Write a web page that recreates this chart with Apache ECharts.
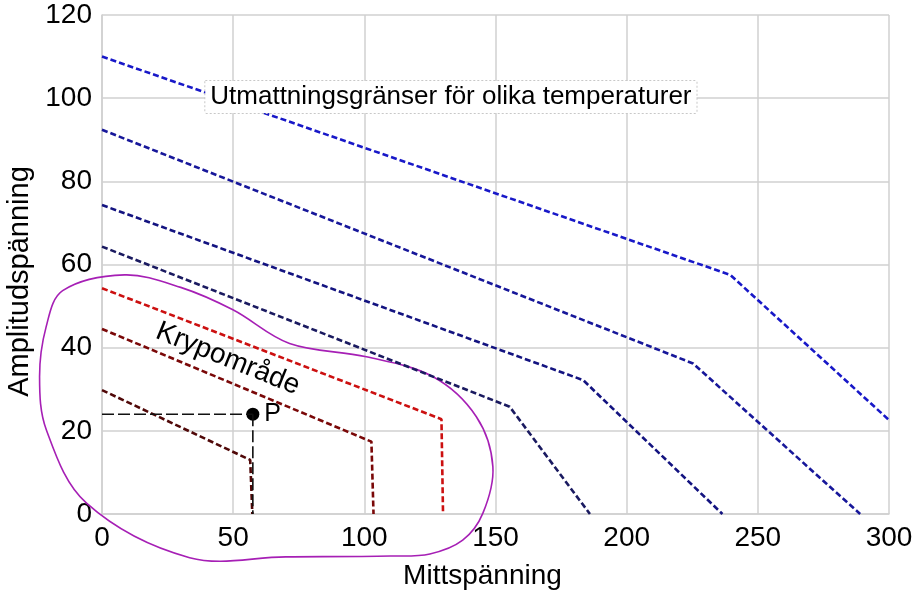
<!DOCTYPE html>
<html>
<head>
<meta charset="utf-8">
<script src="https://cdn.jsdelivr.net/npm/echarts@6/dist/echarts.min.js"></script>
<style>
  html, body { margin: 0; padding: 0; background: #fff; }
  #chart { width: 922px; height: 596px; }
</style>
</head>
<body>
<div id="chart"></div>
<script>
// Fatigue limits (mean stress vs. amplitude stress) at different temperatures
const limitA = [[0, 110], [239.5, 57.5], [300, 22.6]];
const limitB = [[0, 92.4], [225.3, 36.2], [289, 0]];
const limitC = [[0, 74.3], [183.4, 32.2], [236.5, 0]];
const limitD = [[0, 64.3], [155.4, 25.8], [186, 0]];

// Creep limits
const creepA = [[0, 54.3], [129.4, 22.8], [130, 0]];
const creepB = [[0, 44.5], [102.7, 17.4], [103.5, 0]];
const creepC = [[0, 29.8], [56.5, 13], [57.3, 0]];

// Operating point P and its projection lines
const pointP = [57.5, 24];
const projH = [[0, 24], [57.5, 24]];
const projV = [[57.5, 24], [57.5, 0]];

// Outline of the creep region (closed loop)
const creepRegion = [
  [-15, 53.7], [8.6, 57.5], [30, 54.5], [49.9, 49.1], [71.5, 41], [100.8, 37.8],
  [126.2, 33], [142.7, 23.4], [149, 11.4], [145.2, 0.2], [137.5, -6.3],
  [125, -9.6], [110, -10.1], [70, -10.3], [33.4, -10.5], [-5.9, 2.6], [-21.2, 20.2],
  [-23.8, 33], [-21.3, 45]
];

// Text annotations
const titleNote = { text: 'Utmattningsgränser för olika temperaturer', at: [133, 100.3] };
const regionNote = { text: 'Krypområde', at: [48, 37.3] };

const FONT = '"Liberation Sans", Arial, sans-serif';

function dashed(data, color, width, dash) {
  return {
    type: 'line', data: data, symbol: 'none', silent: true, clip: false,
    lineStyle: { color: color, width: width, type: dash }
  };
}

const chart = echarts.init(document.getElementById('chart'));
chart.setOption({
  animation: false,
  backgroundColor: '#fff',
  grid: { left: 102, right: 33, top: 15, bottom: 82, outerBoundsMode: 'none', containLabel: false },
  xAxis: {
    type: 'value', min: 0, max: 300, interval: 50,
    name: 'Mittspänning', nameLocation: 'middle', nameGap: 48,
    nameTextStyle: { fontFamily: FONT, fontSize: 28, color: '#000', padding: [0, 26, 0, 0] },
    axisLine: { show: true, lineStyle: { color: '#d0d0d0', width: 1.5 } },
    axisTick: { show: false },
    axisLabel: { fontFamily: FONT, fontSize: 28, color: '#000', margin: 10 },
    splitLine: { show: true, lineStyle: { color: '#d0d0d0', width: 1.5 } }
  },
  yAxis: {
    type: 'value', min: 0, max: 120, interval: 20,
    name: 'Amplitudspänning', nameLocation: 'middle', nameGap: 62,
    nameTextStyle: { fontFamily: FONT, fontSize: 29, color: '#000', padding: [0, 34, 0, 0] },
    axisLine: { show: true, lineStyle: { color: '#d0d0d0', width: 1.5 } },
    axisTick: { show: false },
    axisLabel: { fontFamily: FONT, fontSize: 28, color: '#000', margin: 10 },
    splitLine: { show: true, lineStyle: { color: '#d0d0d0', width: 1.5 } }
  },
  series: [
    dashed(limitA, '#1818c8', 2.6, [6, 3]),
    dashed(limitB, '#17179a', 2.6, [6, 3]),
    dashed(limitC, '#131380', 2.6, [6, 3]),
    dashed(limitD, '#1a1a60', 2.6, [6, 3]),
    dashed(creepA, '#cc1010', 2.6, [6, 3]),
    dashed(creepB, '#7a0808', 2.6, [6, 3]),
    dashed(creepC, '#500808', 2.6, [6, 3]),
    dashed(projH, '#111', 1.6, [12, 4]),
    dashed(projV, '#111', 1.6, [12, 4]),
    {
      // closed smooth outline of the creep region, mapped through the axes
      type: 'custom', silent: true, clip: false, data: [0],
      renderItem: function (params, api) {
        const pts = creepRegion.map(function (p) { return api.coord(p); });
        return {
          type: 'polygon',
          shape: { points: pts, smooth: 0.35 },
          style: { fill: 'none', stroke: '#a61fb5', lineWidth: 1.6 }
        };
      }
    },
    {
      type: 'scatter', data: [pointP], symbol: 'circle', symbolSize: 13, silent: true,
      itemStyle: { color: '#000', opacity: 1 },
      label: { show: true, position: 'right', distance: 5, formatter: 'P',
               fontFamily: FONT, fontSize: 25, color: '#000' }
    },
    {
      type: 'scatter', data: [titleNote.at], symbolSize: 0, silent: true, z: 5,
      itemStyle: { opacity: 1 },
      label: {
        show: true, position: 'inside', formatter: titleNote.text,
        fontFamily: FONT, fontSize: 26, color: '#000',
        backgroundColor: '#fff', borderColor: '#c8c8c8', borderWidth: 1, borderType: 'dotted',
        padding: [3, 5, 3, 5]
      }
    },
    {
      type: 'scatter', data: [regionNote.at], symbolSize: 0, silent: true,
      itemStyle: { opacity: 1 },
      label: {
        show: true, position: 'inside', formatter: regionNote.text, rotate: -22,
        fontFamily: FONT, fontSize: 28, color: '#000'
      }
    }
  ]
});
</script>
</body>
</html>
